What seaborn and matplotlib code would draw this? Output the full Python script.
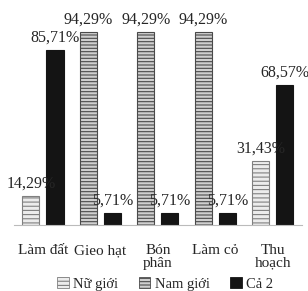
import pandas as pd
import numpy as np
import matplotlib
matplotlib.use('Agg')
import matplotlib.pyplot as plt
import seaborn as sns
from matplotlib.patches import Patch

# data (percent)
categories = ['Làm đất', 'Gieo hạt', 'Bón\nphân', 'Làm cỏ', 'Thu\nhoạch']
nu_gioi = [14.29, 0, 0, 0, 31.43]
nam_gioi = [0, 94.29, 94.29, 94.29, 0]
ca_hai = [85.71, 5.71, 5.71, 5.71, 68.57]
series_names = ['Nữ giới', 'Nam giới', 'Cả 2']

sns.set_style('white')
plt.rcParams['font.family'] = ['Liberation Serif', 'DejaVu Serif']
plt.rcParams['hatch.linewidth'] = 0.8

# long table; Nữ giới and Nam giới share the left slot of each group
rows = []
for name, vals in zip(series_names, [nu_gioi, nam_gioi, ca_hai]):
    for cat, v in zip(categories, vals):
        if v > 0:
            rows.append({'cat': cat, 'val': v, 'series': name,
                         'slot': 'phai' if name == 'Cả 2' else 'trai'})
df = pd.DataFrame(rows)

styles = {
    'Nữ giới': dict(facecolor='#ececec', edgecolor='#808080', hatch='----'),
    'Nam giới': dict(facecolor='#cfcfcf', edgecolor='#4a4a4a', hatch='-----'),
    'Cả 2': dict(facecolor='#141414', edgecolor='#141414', hatch=None),
}

fig = plt.figure(figsize=(3.08, 2.91), dpi=100)
ax = fig.add_axes([0.046, 0.227, 0.933, 0.703])

sns.barplot(data=df, x='cat', y='val', hue='slot', hue_order=['trai', 'phai'],
            order=categories, width=0.84, gap=0.29, errorbar=None,
            legend=False, ax=ax)

for container in ax.containers:
    labels = []
    for bar in container:
        idx = int(round(bar.get_x() + bar.get_width() / 2))
        h = bar.get_height()
        if container is ax.containers[1]:
            name = 'Cả 2'
        else:
            name = 'Nữ giới' if nu_gioi[idx] > 0 else 'Nam giới'
        st = styles[name]
        bar.set_facecolor(st['facecolor'])
        bar.set_edgecolor(st['edgecolor'])
        bar.set_hatch(st['hatch'])
        bar.set_linewidth(0.8)
        labels.append(f'{h:.2f}%'.replace('.', ','))
    ax.bar_label(container, labels=labels, padding=3, fontsize=11.5)

ax.set_xlim(-0.5, 4.5)
ax.set_ylim(0, 100)
ax.set_xlabel('')
ax.set_ylabel('')
ax.set_yticks([])
ax.tick_params(axis='x', length=0, pad=14, labelsize=11)
for lab in ax.get_xticklabels():
    lab.set_linespacing(0.95)
for s in ['left', 'top', 'right']:
    ax.spines[s].set_visible(False)
ax.spines['bottom'].set_color('#bbbbbb')
ax.spines['bottom'].set_linewidth(0.8)

handles = [Patch(**styles[n], linewidth=0.6) for n in series_names]
fig.legend(handles, series_names, loc='center', bbox_to_anchor=(0.536, 0.025),
           ncol=3, frameon=False, fontsize=10.5, handlelength=0.8, handleheight=0.8,
           handletextpad=0.3, columnspacing=1.4, borderaxespad=0)

fig.savefig('out.png', dpi=100, facecolor='white')
